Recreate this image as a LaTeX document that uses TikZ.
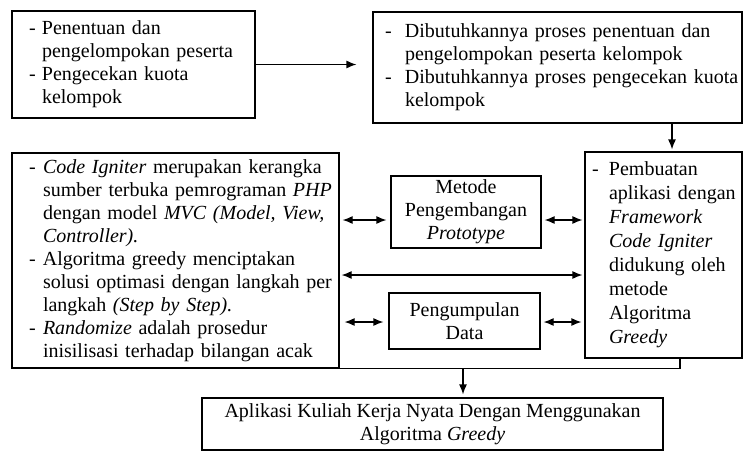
\documentclass[tikz,border=0pt]{standalone}
\usepackage{fontspec}
\setmainfont{Liberation Serif}
\usetikzlibrary{arrows.meta,calc}
\newcommand{\lstbox}[2]{\noindent\begin{tabular}{@{}p{#1}@{}l@{}}#2\end{tabular}}
\begin{document}
\begin{tikzpicture}[x=1pt,y=-1pt,
  box/.style={draw, line width=1.2pt, rectangle, inner ysep=0pt, font=\fontsize{20}{23}\selectfont},
  arr/.style={line width=1.2pt, -{Latex[length=10pt,width=8pt]}},
  darr/.style={line width=1.2pt, {Latex[length=10pt,width=8pt]}-{Latex[length=10pt,width=8pt]}},
]
\useasboundingbox (0,0) rectangle (751,456);

\node[box, minimum width=243pt, minimum height=107pt, inner xsep=17pt, text width=209pt, align=left] (A) at (133.5,64.5)
  {\lstbox{13pt}{- & Penentuan dan\\ & pengelompokan peserta\\ - & Pengecekan kuota\\ & kelompok}};

\node[box, minimum width=369pt, minimum height=111pt, inner xsep=12pt, text width=345pt, align=left] (B) at (557.5,67.5)
  {\lstbox{20pt}{- & Dibutuhkannya proses penentuan dan\\ & pengelompokan peserta kelompok\\ - & Dibutuhkannya proses pengecekan kuota\\ & kelompok}};

\node[box, minimum width=327pt, minimum height=215pt, inner xsep=17pt, text width=293pt, align=left] (L) at (175.5,260.5)
  {\lstbox{14pt}{- & \textit{Code Igniter} merupakan kerangka\\
   & sumber terbuka pemrograman \textit{PHP}\\
   & dengan model \textit{MVC (Model, View,}\\
   & \textit{Controller).}\\
   - & Algoritma greedy menciptakan\\
   & solusi optimasi dengan langkah per\\
   & langkah \textit{(Step by Step).}\\
   - & \textit{Randomize} adalah prosedur\\
   & inisilisasi terhadap bilangan acak}};

\node[box, font=\fontsize{20}{24}\selectfont, minimum width=157pt, minimum height=206pt, inner xsep=7pt, text width=143pt, align=left] (C) at (663.5,255)
  {\lstbox{17pt}{- & Pembuatan\\ & aplikasi dengan\\ & \textit{Framework}\\ & \textit{Code Igniter}\\ & didukung oleh\\ & metode\\ & Algoritma\\ & \textit{Greedy}}};

\node[box, minimum width=150pt, minimum height=72pt, inner xsep=2pt, align=center] (M) at (466,212)
  {Metode\\ Pengembangan\\ \textit{Prototype}};

\node[box, minimum width=151pt, minimum height=56pt, inner xsep=2pt, align=center] (P) at (464.5,321)
  {Pengumpulan\\ Data};

\node[box, minimum width=461pt, minimum height=52pt, inner xsep=2pt, align=center] (D) at (432.5,424)
  {Aplikasi Kuliah Kerja Nyata Dengan Menggunakan\\ Algoritma \textit{Greedy}};

% connectors
\draw[arr, shorten >=16pt] (A.east) -- (A.east -| B.west);
\coordinate (bc) at (672,123);
\draw[arr, shorten >=2pt] (bc) -- (bc |- C.north);
\coordinate (y1) at (0,220);
\draw[darr, shorten <=3pt, shorten >=4pt] (L.east |- y1) -- (M.west |- y1);
\draw[darr, shorten <=3pt, shorten >=2pt] (M.east |- y1) -- (C.west |- y1);
\coordinate (y2) at (0,275);
\draw[darr, shorten <=2pt, shorten >=2pt] (L.east |- y2) -- (C.west |- y2);
\coordinate (y3) at (0,322);
\draw[darr, shorten <=5pt, shorten >=5pt] (L.east |- y3) -- (P.west |- y3);
\draw[darr, shorten <=3pt, shorten >=3pt] (P.east |- y3) -- (C.west |- y3);
\coordinate (cb) at (680,358);
\draw[line width=1.2pt] (cb) |- (L.south east);
\coordinate (dd) at (463,368);
\draw[arr, shorten >=3pt] (dd) -- (dd |- D.north);
\end{tikzpicture}
\end{document}
